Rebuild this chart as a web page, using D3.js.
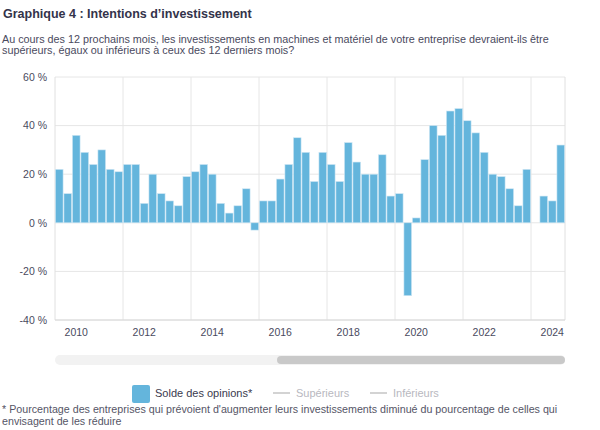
<!DOCTYPE html>
<html>
<head>
<meta charset="utf-8">
<script src="https://cdn.jsdelivr.net/npm/d3@7"></script>
<style>
  body { margin: 0; background: #fff; }
  svg { font-family: "Liberation Sans", Arial, sans-serif; }
</style>
</head>
<body>
<div id="chart"></div>
<script>
// trimestres affichés (du 3e trim. 2009 au 2e trim. 2024)
const categories = [
  "2009T3","2009T4",
  "2010T1","2010T2","2010T3","2010T4","2011T1","2011T2","2011T3","2011T4",
  "2012T1","2012T2","2012T3","2012T4","2013T1","2013T2","2013T3","2013T4",
  "2014T1","2014T2","2014T3","2014T4","2015T1","2015T2","2015T3","2015T4",
  "2016T1","2016T2","2016T3","2016T4","2017T1","2017T2","2017T3","2017T4",
  "2018T1","2018T2","2018T3","2018T4","2019T1","2019T2","2019T3","2019T4",
  "2020T1","2020T2","2020T3","2020T4","2021T1","2021T2","2021T3","2021T4",
  "2022T1","2022T2","2022T3","2022T4","2023T1","2023T2","2023T3","2023T4",
  "2024T1","2024T2"
];

// solde des opinions (%)
const solde = [
  22, 12,
  36, 29, 24, 30, 22, 21, 24, 24,
  8, 20, 12, 9, 7, 19, 21, 24,
  20, 8, 4, 7, 14, -3, 9, 9,
  18, 24, 35, 29, 17, 29, 24, 17,
  33, 25, 20, 20, 28, 11, 12, -30,
  2, 26, 40, 36, 46, 47, 42, 37,
  29, 20, 19, 14, 7, 22, null, 11,
  9, 32
];

const yTicks = [-40, -20, 0, 20, 40, 60];
const yearTickCats = ["2010T1","2012T1","2014T1","2016T1","2018T1","2020T1","2022T1","2024T1"];
const yearTickLabels = ["2010","2012","2014","2016","2018","2020","2022","2024"];
const gridCats = ["2011T3","2013T3","2015T3","2017T3","2019T3","2021T3","2023T3"];

const legendItems = ["Solde des opinions*", "Supérieurs", "Inférieurs"];

const width = 600, height = 430;
const plot = { left: 55, right: 565, top: 77, bottom: 320 };
const barColor = "#64b5dc";
const textColor = "#4a4a5e";

const svg = d3.select("#chart").append("svg")
    .attr("width", width)
    .attr("height", height);

// titre + question
svg.append("text")
    .attr("x", 3).attr("y", 18)
    .style("font-size", "12.5px").style("font-weight", "bold")
    .style("fill", "#33334a")
    .text("Graphique 4 : Intentions d’investissement");

const sub = svg.append("text")
    .style("font-size", "10.8px").style("fill", textColor);
sub.append("tspan").attr("x", 2).attr("y", 43)
    .text("Au cours des 12 prochains mois, les investissements en machines et matériel de votre entreprise devraient-ils être");
sub.append("tspan").attr("x", 2).attr("y", 54)
    .text("supérieurs, égaux ou inférieurs à ceux des 12 derniers mois?");

const x = d3.scaleBand()
    .domain(categories)
    .range([plot.left, plot.right])
    .paddingInner(0.1)
    .paddingOuter(0.05);

const y = d3.scaleLinear()
    .domain([-40, 60])
    .range([plot.bottom, plot.top]);

// grille horizontale
svg.append("g")
    .selectAll("line")
    .data(yTicks)
    .enter().append("line")
    .attr("x1", plot.left).attr("x2", plot.right)
    .attr("y1", d => y(d)).attr("y2", d => y(d))
    .style("stroke", "#e6e6e6").style("stroke-width", 1);

// grille verticale
const step = x.step();
svg.append("g")
    .selectAll("line")
    .data(gridCats)
    .enter().append("line")
    .attr("x1", d => x(d) - step * x.paddingInner() / 2)
    .attr("x2", d => x(d) - step * x.paddingInner() / 2)
    .attr("y1", plot.top).attr("y2", plot.bottom)
    .style("stroke", "#e6e6e6").style("stroke-width", 1);

// cadre gauche / droite
[plot.left, plot.right].forEach(px => {
    svg.append("line")
        .attr("x1", px).attr("x2", px)
        .attr("y1", plot.top).attr("y2", plot.bottom)
        .style("stroke", "#e0e0e0").style("stroke-width", 1);
});
svg.append("line")
    .attr("x1", plot.left).attr("x2", plot.right)
    .attr("y1", plot.bottom).attr("y2", plot.bottom)
    .style("stroke", "#d8d8d8").style("stroke-width", 1);

// barres
const data = categories.map((c, i) => ({ cat: c, value: solde[i] }))
    .filter(d => d.value !== null);

svg.append("g")
    .selectAll("rect")
    .data(data)
    .enter().append("rect")
    .attr("x", d => x(d.cat))
    .attr("width", x.bandwidth())
    .attr("y", d => y(Math.max(0, d.value)))
    .attr("height", d => Math.abs(y(d.value) - y(0)))
    .style("fill", barColor)
    .style("stroke", "#cfe7f4")
    .style("stroke-width", 0.6);

// axe Y
const yAxis = d3.axisLeft(y)
    .tickValues(yTicks)
    .tickSize(0)
    .tickPadding(8)
    .tickFormat(d => d + " %");
svg.append("g")
    .attr("transform", `translate(${plot.left},0)`)
    .call(yAxis)
    .call(g => g.select(".domain").remove())
    .selectAll("text")
    .style("font-size", "10.5px")
    .style("fill", textColor)
    .style("font-family", "'Liberation Sans', Arial, sans-serif");

// axe X (années)
const xAxis = d3.axisBottom(x)
    .tickValues(yearTickCats)
    .tickSize(0)
    .tickPadding(9)
    .tickFormat(d => yearTickLabels[yearTickCats.indexOf(d)]);
svg.append("g")
    .attr("transform", `translate(0,${plot.bottom})`)
    .call(xAxis)
    .call(g => g.select(".domain").remove())
    .selectAll("text")
    .style("font-size", "10.5px")
    .style("fill", textColor)
    .style("font-family", "'Liberation Sans', Arial, sans-serif");

// barre de défilement
svg.append("rect")
    .attr("x", plot.left).attr("y", 355)
    .attr("width", plot.right - plot.left).attr("height", 10)
    .attr("rx", 5)
    .style("fill", "#f2f2f2");
svg.append("rect")
    .attr("x", 277).attr("y", 356)
    .attr("width", plot.right - 277).attr("height", 8)
    .attr("rx", 4)
    .style("fill", "#c9c9c9");

// légende
const legend = svg.append("g");
legend.append("rect")
    .attr("x", 132).attr("y", 385)
    .attr("width", 18).attr("height", 18)
    .attr("rx", 2)
    .style("fill", barColor);
legend.append("text")
    .attr("x", 155).attr("y", 397)
    .style("font-size", "11px").style("fill", "#3a3a4e")
    .text(legendItems[0]);
[[273, 296], [370, 393]].forEach((pos, i) => {
    legend.append("line")
        .attr("x1", pos[0]).attr("x2", pos[0] + 17)
        .attr("y1", 393).attr("y2", 393)
        .style("stroke", "#c4c4c4").style("stroke-width", 1.5);
    legend.append("text")
        .attr("x", pos[1]).attr("y", 397)
        .style("font-size", "11px").style("fill", "#b8b8c0")
        .text(legendItems[i + 1]);
});

// note
const note = svg.append("text")
    .style("font-size", "10.7px").style("fill", "#555566");
note.append("tspan").attr("x", 2).attr("y", 413)
    .text("* Pourcentage des entreprises qui prévoient d'augmenter leurs investissements diminué du pourcentage de celles qui");
note.append("tspan").attr("x", 2).attr("y", 425)
    .text("envisagent de les réduire");
</script>
</body>
</html>
